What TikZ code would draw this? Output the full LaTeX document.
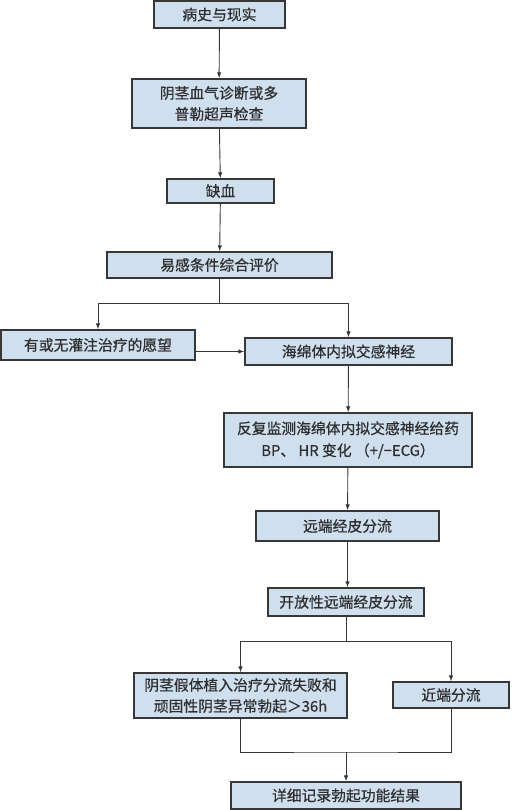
\documentclass[tikz,border=0pt]{standalone}
\usepackage{fontspec}
\newfontfamily\cjk[FakeBold=0.6]{Noto Sans CJK SC}
\usepackage{xcolor}
\usetikzlibrary{arrows.meta, positioning}

\definecolor{boxfill}{RGB}{207,223,238}
\definecolor{boxline}{RGB}{55,55,55}

\begin{document}
\begin{tikzpicture}[
    x=1pt, y=-1pt,
    >={Latex[length=6pt,width=4.5pt]},
    box/.style={rectangle, draw=boxline, line width=1.3pt, fill=boxfill, align=center, inner sep=2pt, text=black!82, font=\cjk\fontsize{14.8}{21}\selectfont},
    arrow/.style={->, line width=0.9pt, draw=boxline},
    line/.style={line width=0.9pt, draw=boxline}
]
\useasboundingbox (0,0) rectangle (511,810);

% =============================================================
% Main column (x = 220)
% =============================================================
\node[box, minimum width=131pt, minimum height=27pt] (hist) at (219.5, 14.5) {病史与现实};
\node[box, minimum width=174pt, minimum height=49pt] (diag) at (219, 103.5) {阴茎血气诊断或多\\普勒超声检查};
\node[box, minimum width=107pt, minimum height=24pt] (isch) at (220.5, 191) {缺血};
\node[box, minimum width=225pt, minimum height=26pt] (eval) at (219.5, 265) {易感条件综合评价};

\draw[arrow] (hist) -- (diag);
\draw[arrow] (diag) -- (isch);
\draw[arrow] (isch) -- (eval);

% =============================================================
% First split (y = 303)
% =============================================================
\node[box, minimum width=194pt, minimum height=30pt] (wish) at (98, 345) {有或无灌注治疗的愿望};
\node[box, minimum width=207pt, minimum height=27pt] (symp) at (348.5, 351.5) {海绵体内拟交感神经};

\coordinate (split1) at (219.5, 303);
\draw[line] (eval.south) -- (split1);
\draw[arrow] (split1) -| (wish.north);
\draw[arrow] (split1) -| (symp.north);
\draw[arrow] (wish.east |- symp.west) -- (symp.west);

% =============================================================
% Right column (x = 348)
% =============================================================
\node[box, minimum width=248pt, minimum height=54pt, font=\cjk\fontsize{14.8}{22}\selectfont] (moni) at (348, 440) {反复监测海绵体内拟交感神经给药\\BP、 HR 变化 （+/−ECG）};
\node[box, minimum width=183pt, minimum height=30pt] (dist) at (347.5, 526) {远端经皮分流};
\node[box, minimum width=156pt, minimum height=28pt] (open) at (346, 602) {开放性远端经皮分流};

\draw[arrow] (symp) -- (moni);
\draw[arrow] (moni) -- (dist);
\draw[arrow] (dist.south) -- (dist.south |- open.north);

% =============================================================
% Second split and merge
% =============================================================
\node[box, minimum width=213pt, minimum height=45pt] (impl) at (240.5, 695.5) {阴茎假体植入治疗分流失败和\\顽固性阴茎异常勃起＞36h};
\node[box, minimum width=116pt, minimum height=26pt] (prox) at (451, 695) {近端分流};
\node[box, minimum width=230pt, minimum height=27pt] (resu) at (346, 795.5) {详细记录勃起功能结果};

\coordinate (split2) at (346, 641);
\draw[line] (open.south) -- (split2);
\draw[arrow] (split2) -| (impl.north);
\draw[arrow] (split2) -| (prox.north);

\coordinate (merge) at (346, 752);
\draw[line] (impl.south) |- (merge) -| (prox.south);
\draw[arrow] (merge) -- (resu.north);

\end{tikzpicture}
\end{document}
